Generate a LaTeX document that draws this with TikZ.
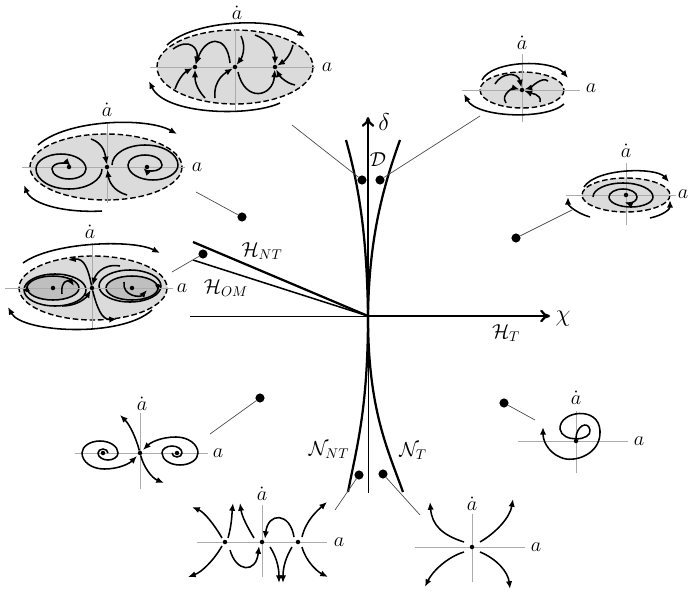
\documentclass[tikz,border=0pt]{standalone}
\usepackage{amsmath,amssymb,amsfonts}
\usepackage{xcolor}
\usepackage{tikz}
\usetikzlibrary{arrows.meta, calc}

\tikzset{
  ax/.style={gray!65, line width=0.6pt},
  flow/.style={line width=1.1pt, -{Latex[length=5.5pt,width=4.5pt]}},
  orbit/.style={line width=1.1pt},
  basin/.style={fill=gray!28, line width=1pt, dash pattern=on 4pt off 2pt},
  core/.style={fill=gray!50},
  eq/.style={circle, fill, inner sep=0pt, minimum size=3.2pt},
  regdot/.style={circle, fill, inner sep=0pt, minimum size=6.5pt},
  lead/.style={gray!60!black, line width=0.5pt},
  bif/.style={line width=1.6pt},
  lbl/.style={inner sep=1pt, font=\Large},
  blbl/.style={inner sep=1pt, font=\Large},
}

\begin{document}
\begin{tikzpicture}[x=0.025cm, y=-0.025cm]
\useasboundingbox (0,0) rectangle (691,598);

% parameter plane
\coordinate (O) at (368,316);
\coordinate (chiL) at (190,316);
\coordinate (chiR) at (550,316);
\coordinate (dUp) at (368,117);
\coordinate (dLow) at (368,493);
\draw[line width=0.6pt] (chiL) -- (O);
\draw[bif, -{To[length=7pt,width=9pt]}] (O) -- (chiR);
\draw[line width=0.6pt] (O) -- (dLow);
\draw[bif, -{To[length=7pt,width=9pt]}] (O) -- (dUp);
\node[inner sep=1pt, font=\LARGE] (chi) at (563,319) {$\chi$};
\node[inner sep=1pt, font=\LARGE] (delta) at (384,122) {$\delta$};

% bifurcation curves
\coordinate (DL) at (346,140);
\coordinate (DR) at (400,140);
\coordinate (NL) at (348,492);
\coordinate (NR) at (403,492);
\coordinate (HNTe) at (193,242);
\coordinate (HOMe) at (193,260);
\draw[bif] (O) .. controls (367,240) and (360,190) .. (DL);
\draw[bif] (O) .. controls (369,240) and (382,190) .. (DR);
\draw[bif] (O) .. controls (368,410) and (356,450) .. (NL);
\draw[bif] (O) .. controls (368,410) and (388,450) .. (NR);
\draw[bif] (HNTe) -- (O);
\draw[line width=1.1pt] (HOMe) -- (O);

\node[blbl] (lHNT) at (262,251) {$\mathcal{H}_{NT}$};
\node[blbl] (lHOM) at (226,288) {$\mathcal{H}_{OM}$};
\node[blbl] (lHT) at (506,333) {$\mathcal{H}_{T}$};
\node[blbl] (lNNT) at (329,450) {$\mathcal{N}_{NT}$};
\node[blbl] (lNT) at (413,451) {$\mathcal{N}_{T}$};
\node[blbl] (lD) at (378,160) {$\mathcal{D}$};

% region markers and leaders
\node[regdot] (dD1) at (362,180) {};
\node[regdot] (dD2) at (380,180) {};
\node[regdot] (dA) at (242,217) {};
\node[regdot] (dB) at (516,238) {};
\node[regdot] (dC) at (203,254) {};
\node[regdot] (dE) at (260,398) {};
\node[regdot] (dF) at (504,403) {};
\node[regdot] (dG) at (359,475) {};
\node[regdot] (dH) at (383,474) {};
\coordinate (pD1) at (292,125);
\coordinate (pD2) at (480,116);
\coordinate (pA) at (196,192);
\coordinate (pB) at (572,210);
\coordinate (pC) at (172,272);
\coordinate (pE) at (210,434);
\coordinate (pF) at (535,420);
\coordinate (pG) at (335,510);
\coordinate (pH) at (420,515);
\draw[lead] (dD1) -- (pD1);
\draw[lead] (dD2) -- (pD2);
\draw[lead] (dA) -- (pA);
\draw[lead] (dB) -- (pB);
\draw[lead] (dC) -- (pC);
\draw[lead] (dE) -- (pE);
\draw[lead] (dF) -- (pF);
\draw[lead] (dG) -- (pG);
\draw[lead] (dH) -- (pH);

% portrait: two nodes and a saddle
\begin{scope}[shift={(235,67)}]
  \draw[basin] (0,0) ellipse (78 and 37);
  \draw[ax] (-85,0) -- (80,0);
  \draw[ax] (0,-38) -- (0,45);
  \node[lbl] (p1y) at (2,-54) {$\dot a$};
  \node[lbl] (p1x) at (92,0) {$a$};
  \draw[flow] (-68,-22) .. controls (-40,-48) and (40,-50) .. (70,-30);
  \draw[flow] (45,36) .. controls (15,50) and (-70,48) .. (-86,14);
  \node[eq] (p1l) at (-40,0) {};
  \node[eq] (p1c) at (0,0) {};
  \node[eq] (p1r) at (40,0) {};
  \draw[flow] (-62,-18) .. controls (-45,-30) and (-36,-18) .. (p1l);
  \draw[flow] (-5,-4) .. controls (-8,-34) and (-30,-30) .. (p1l);
  \draw[flow] (-60,22) .. controls (-55,8) and (-48,4) .. (p1l);
  \draw[flow] (-30,31) .. controls (-40,20) and (-40,12) .. (p1l);
  \draw[flow] (6,-31) .. controls (12,-18) and (6,-8) .. (p1c);
  \draw[flow] (-20,31) .. controls (-22,12) and (-8,5) .. (p1c);
  \draw[flow] (3,5) .. controls (10,36) and (38,30) .. (p1r);
  \draw[flow] (20,-32) .. controls (36,-26) and (40,-15) .. (p1r);
  \draw[flow] (58,-22) .. controls (55,-10) and (48,-5) .. (p1r);
  \draw[flow] (60,18) .. controls (50,16) and (44,8) .. (p1r);
\end{scope}

% portrait: stable focus in small basin
\begin{scope}[shift={(522,90)}]
  \draw[basin] (0,0) ellipse (42 and 18);
  \draw[ax] (-60,0) -- (58,0);
  \draw[ax] (0,-36) -- (0,32);
  \node[lbl] (p2y) at (0,-47) {$\dot a$};
  \node[lbl] (p2x) at (69,-2) {$a$};
  \draw[flow] (-40,-10) .. controls (-30,-30) and (30,-31) .. (46,-12);
  \draw[flow] (42,14) .. controls (25,30) and (-45,28) .. (-58,4);
  \node[eq] (p2c) at (0,0) {};
  \draw[flow] (-27,-6) .. controls (-20,-18) and (-4,-18) .. (p2c);
  \draw[flow] (26,-9) .. controls (20,-14) and (8,-2) .. (p2c);
  \draw[flow] (-16,13) .. controls (-22,4) and (-8,-2) .. (p2c);
  \draw[flow] (18,12) .. controls (20,4) and (8,3) .. (p2c);
\end{scope}

% portrait: two foci and a saddle in a basin
\begin{scope}[shift={(107,167)}]
  \draw[basin] (-1,0) ellipse (76 and 33);
  \draw[ax] (-85,0) -- (78,0);
  \draw[ax] (0,-44) -- (0,36);
  \node[lbl] (p3y) at (0,-57) {$\dot a$};
  \node[lbl] (p3x) at (90,0) {$a$};
  \draw[flow] (-69,-22) .. controls (-40,-48) and (40,-50) .. (70,-33);
  \draw[flow] (-5,44) .. controls (-40,46) and (-75,38) .. (-83,18);
  \node[eq] (p3l) at (-38,0) {};
  \node[eq] (p3c) at (0,0) {};
  \node[eq] (p3r) at (40,0) {};
  \draw[orbit, -{Latex[length=5.5pt,width=4.5pt]}] (-5,2) arc[start angle=0, end angle=180, x radius=33, y radius=20]
    arc[start angle=180, end angle=360, x radius=25, y radius=15]
    arc[start angle=0, end angle=180, x radius=17, y radius=10]
    arc[start angle=180, end angle=330, x radius=10, y radius=6];
  \draw[orbit, -{Latex[length=5.5pt,width=4.5pt]}] (5,-2) arc[start angle=180, end angle=360, x radius=33, y radius=20]
    arc[start angle=0, end angle=180, x radius=25, y radius=15]
    arc[start angle=180, end angle=360, x radius=17, y radius=10]
    arc[start angle=0, end angle=150, x radius=10, y radius=6];
  \draw[flow] (-16,-28) .. controls (-4,-24) and (-2,-14) .. (p3c);
  \draw[flow] (20,28) .. controls (6,24) and (2,14) .. (p3c);
\end{scope}

% portrait: limit cycles around two foci
\begin{scope}[shift={(92,288)}]
  \draw[basin] (1,0) ellipse (74 and 32);
  \fill[core] (-39,0) ellipse (26 and 12);
  \fill[core] (40,0) ellipse (26 and 12);
  \draw[orbit] (-39,0) ellipse (26 and 12);
  \draw[orbit] (40,0) ellipse (26 and 12);
  \draw[orbit] (-37,2) ellipse (31 and 16);
  \draw[orbit] (38,-2) ellipse (31 and 16);
  \draw[ax] (-87,0) -- (81,0);
  \draw[ax] (0,-45) -- (0,42);
  \node[lbl] (p4y) at (-2,-56) {$\dot a$};
  \node[lbl] (p4x) at (90,0) {$a$};
  \draw[flow] (-69,-25) .. controls (-40,-46) and (40,-49) .. (68,-35);
  \draw[flow] (60,22) .. controls (30,50) and (-70,45) .. (-84,19);
  \node[eq] (p4l) at (-39,0) {};
  \node[eq] (p4c) at (0,0) {};
  \node[eq] (p4r) at (40,0) {};
  \draw[flow] (-30,6) .. controls (-32,-8) and (-22,-8) .. (-18,-2);
  \draw[flow] (32,-6) .. controls (30,8) and (48,10) .. (55,2);
  \draw[line width=1.1pt, -{Latex[length=4.5pt,width=4.5pt]}] (-65,4) -- (-65,-3);
  \draw[line width=1.1pt, -{Latex[length=4.5pt,width=4.5pt]}] (66,-4) -- (66,3);
  \draw[flow] (p4c) .. controls (-4,-20) and (-8,-30) .. (-24,-28);
  \draw[flow] (28,-22) .. controls (10,-25) and (3,-12) .. (p4c);
  \draw[flow] (p4c) .. controls (5,20) and (10,32) .. (25,31);
  \draw[flow] (-30,18) .. controls (-15,18) and (-6,10) .. (p4c);
\end{scope}

% portrait: focus inside basin
\begin{scope}[shift={(626,195)}]
  \draw[basin] (0,0) ellipse (44 and 17);
  \draw[ax] (-60,0) -- (50,0);
  \draw[ax] (0,-32) -- (0,30);
  \node[lbl] (p5y) at (0,-44) {$\dot a$};
  \node[lbl] (p5x) at (57,-1) {$a$};
  \draw[flow] (-42,-8) .. controls (-30,-27) and (30,-28) .. (43,-13);
  \draw[flow] (-36,22) .. controls (-50,18) and (-58,10) .. (-58,2);
  \draw[flow] (24,23) .. controls (38,20) and (44,14) .. (44,5);
  \node[eq] (p5c) at (0,0) {};
  \draw[orbit, -{Latex[length=5.5pt,width=4.5pt]}] (-33,2) arc[start angle=180, end angle=360, x radius=30, y radius=14]
    arc[start angle=0, end angle=180, x radius=22, y radius=10]
    arc[start angle=180, end angle=360, x radius=14, y radius=8]
    arc[start angle=0, end angle=120, x radius=8, y radius=6];
\end{scope}

% portrait: saddle between two foci
\begin{scope}[shift={(140,453)}]
  \draw[ax] (-65,0) -- (68,0);
  \draw[ax] (0,-40) -- (0,36);
  \node[lbl] (p6y) at (2,-49) {$\dot a$};
  \node[lbl] (p6x) at (78,0) {$a$};
  \node[eq] (p6l) at (-37,0) {};
  \node[eq] (p6c) at (0,0) {};
  \node[eq] (p6r) at (37,0) {};
  \draw[orbit, -{Latex[length=5.5pt,width=4.5pt]}] (-32,0) arc[start angle=0, end angle=-180, x radius=5, y radius=4]
    arc[start angle=180, end angle=0, x radius=10, y radius=7]
    arc[start angle=0, end angle=-180, x radius=18, y radius=12]
    arc[start angle=180, end angle=90, x radius=22, y radius=16]
    .. controls (-20,16) and (-10,10) .. (-3,3);
  \draw[orbit, -{Latex[length=5.5pt,width=4.5pt]}] (32,0) arc[start angle=180, end angle=0, x radius=5, y radius=4]
    arc[start angle=0, end angle=-180, x radius=10, y radius=7]
    arc[start angle=180, end angle=0, x radius=18, y radius=12]
    arc[start angle=0, end angle=-90, x radius=22, y radius=16]
    .. controls (20,-16) and (10,-10) .. (3,-3);
  \draw[flow] (p6c) .. controls (-4,-15) and (-10,-28) .. (-20,-38);
  \draw[flow] (p6c) .. controls (4,15) and (12,25) .. (24,30);
\end{scope}

% portrait: unstable focus
\begin{scope}[shift={(576,441)}]
  \draw[ax] (-58,0) -- (52,0);
  \draw[ax] (0,-30) -- (0,32);
  \node[lbl] (p7y) at (0,-43) {$\dot a$};
  \node[lbl] (p7x) at (63,0) {$a$};
  \node[eq] (p7c) at (0,0) {};
  \draw[flow] (p7c) .. controls (0,-15) and (12,-21) .. (14,-11)
    .. controls (16,0) and (-14,2) .. (-16,-12)
    .. controls (-17,-30) and (23,-36) .. (24,-10)
    .. controls (25,10) and (5,20) .. (-10,18)
    .. controls (-25,15) and (-33,2) .. (-33,-14);
\end{scope}

% portrait: three saddles
\begin{scope}[shift={(262,542)}]
  \draw[ax] (-65,0) -- (65,0);
  \draw[ax] (0,-37) -- (0,35);
  \node[lbl] (p8y) at (0,-48) {$\dot a$};
  \node[lbl] (p8x) at (77,0) {$a$};
  \node[eq] (p8l) at (-37,0) {};
  \node[eq] (p8c) at (0,0) {};
  \node[eq] (p8r) at (36,0) {};
  \draw[flow] (-40,-4) .. controls (-48,-18) and (-58,-30) .. (-70,-35);
  \draw[flow] (-40,4) .. controls (-48,18) and (-60,30) .. (-74,35);
  \draw[flow] (-34,-4) .. controls (-30,-18) and (-30,-30) .. (-29,-39);
  \draw[flow] (-8,-4) .. controls (-14,-14) and (-20,-25) .. (-22,-39);
  \draw[flow] (-32,8) .. controls (-26,30) and (-6,32) .. (-3,4);
  \draw[flow] (32,-5) .. controls (28,-30) and (6,-30) .. (3,-3);
  \draw[flow] (8,5) .. controls (14,14) and (17,25) .. (17,41);
  \draw[flow] (30,5) .. controls (24,15) and (21,25) .. (21,41);
  \draw[flow] (40,-5) .. controls (44,-22) and (56,-32) .. (65,-40);
  \draw[flow] (40,5) .. controls (44,20) and (56,30) .. (66,35);
\end{scope}

% portrait: unstable node
\begin{scope}[shift={(472,547)}]
  \draw[ax] (-57,0) -- (53,0);
  \draw[ax] (0,-33) -- (0,35);
  \node[lbl] (p9y) at (0,-43) {$\dot a$};
  \node[lbl] (p9x) at (64,0) {$a$};
  \node[eq] (p9c) at (0,0) {};
  \draw[flow] (-8,-5) .. controls (-30,-12) and (-40,-22) .. (-42,-45);
  \draw[flow] (8,-5) .. controls (25,-15) and (38,-30) .. (41,-48);
  \draw[flow] (-8,5) .. controls (-25,10) and (-40,25) .. (-47,40);
  \draw[flow] (8,5) .. controls (25,12) and (36,25) .. (38,42);
\end{scope}

\end{tikzpicture}
\end{document}
